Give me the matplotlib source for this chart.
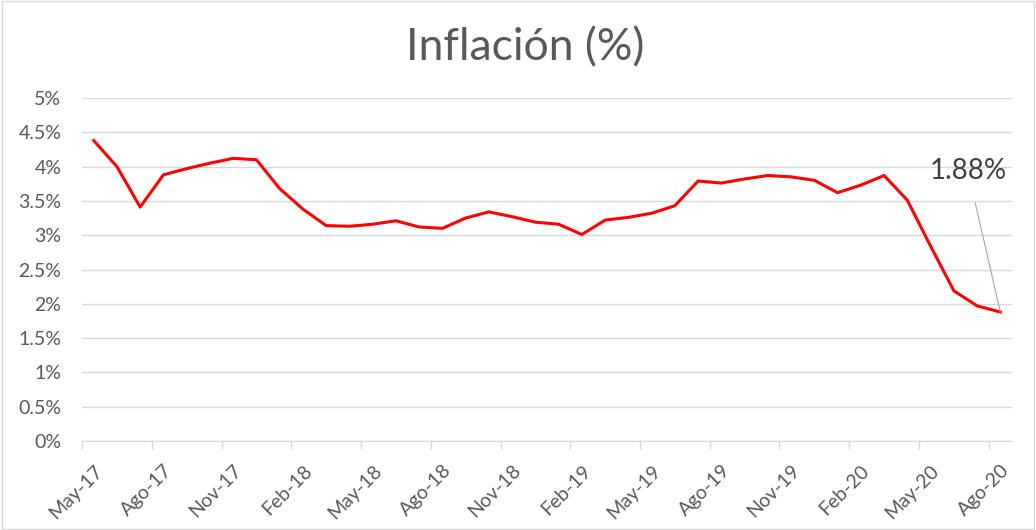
import matplotlib
matplotlib.use("Agg")
import matplotlib.pyplot as plt
from matplotlib.patches import Rectangle

plt.rcParams['font.family'] = ['Lato', 'DejaVu Sans']

# monthly inflation, May-17 .. Ago-20
months = ["May-17", "Jun-17", "Jul-17", "Ago-17", "Sep-17", "Oct-17", "Nov-17", "Dic-17",
          "Ene-18", "Feb-18", "Mar-18", "Abr-18", "May-18", "Jun-18", "Jul-18", "Ago-18",
          "Sep-18", "Oct-18", "Nov-18", "Dic-18", "Ene-19", "Feb-19", "Mar-19", "Abr-19",
          "May-19", "Jun-19", "Jul-19", "Ago-19", "Sep-19", "Oct-19", "Nov-19", "Dic-19",
          "Ene-20", "Feb-20", "Mar-20", "Abr-20", "May-20", "Jun-20", "Jul-20", "Ago-20"]
inflation = [4.38, 4.00, 3.41, 3.88, 3.97, 4.05, 4.12, 4.10,
             3.68, 3.38, 3.14, 3.13, 3.16, 3.21, 3.12, 3.10,
             3.25, 3.34, 3.27, 3.19, 3.16, 3.01, 3.22, 3.26,
             3.32, 3.43, 3.79, 3.76, 3.82, 3.87, 3.85, 3.80,
             3.62, 3.73, 3.87, 3.51, 2.84, 2.19, 1.97, 1.88]
y_ticks = [0, 0.5, 1, 1.5, 2, 2.5, 3, 3.5, 4, 4.5, 5]
y_labels = ["0%", "0.5%", "1%", "1.5%", "2%", "2.5%", "3%", "3.5%", "4%", "4.5%", "5%"]

txt = "#595959"
grid = "#d9d9d9"

fig = plt.figure(figsize=(10.36, 5.30), dpi=100)
fig.patches.append(Rectangle((0.0015, 0.002), 0.997, 0.996, transform=fig.transFigure,
                             fill=False, edgecolor=grid, linewidth=1))
ax = fig.add_axes([0.0792, 0.1679, 0.8976, 0.6472])

x = list(range(len(inflation)))
ax.plot(x, inflation, color="#ff0000", linewidth=2.2, solid_joinstyle="round")

ax.set_xlim(-0.5, len(inflation) - 0.5)
ax.set_ylim(0, 5)
ax.set_yticks(y_ticks)
ax.set_yticklabels(y_labels)
ax.grid(axis="y", color=grid, linewidth=1)
ax.set_axisbelow(True)

# labels every 3 months at the category centre, tick marks on boundaries
lab_idx = list(range(0, len(months), 3))
ax.set_xticks(lab_idx)
ax.set_xticklabels([months[i] for i in lab_idx], rotation=45, ha="right",
                   rotation_mode="anchor")
ax.set_xticks([i - 0.5 for i in lab_idx], minor=True)
ax.tick_params(axis="x", which="major", length=0, pad=15, labelsize=14, labelcolor=txt)
ax.tick_params(axis="x", which="minor", length=6, color=grid, width=1)
ax.tick_params(axis="y", length=0, pad=15, labelsize=14, labelcolor=txt)

for s in ["top", "right", "left"]:
    ax.spines[s].set_visible(False)
ax.spines["bottom"].set_color(grid)

fig.text(0.507, 0.91, "Inflación (%)", ha="center", va="center", fontsize=32, color=txt)

last = len(inflation) - 1
ax.annotate(f"{inflation[last]:.2f}%", xy=(last, inflation[last]), xytext=(37.6, 3.94),
            ha="center", va="center", fontsize=20, color="#404040",
            arrowprops=dict(arrowstyle="-", color="#a6a6a6", linewidth=0.8, shrinkA=12, shrinkB=0))

fig.savefig("out.png", dpi=100)
